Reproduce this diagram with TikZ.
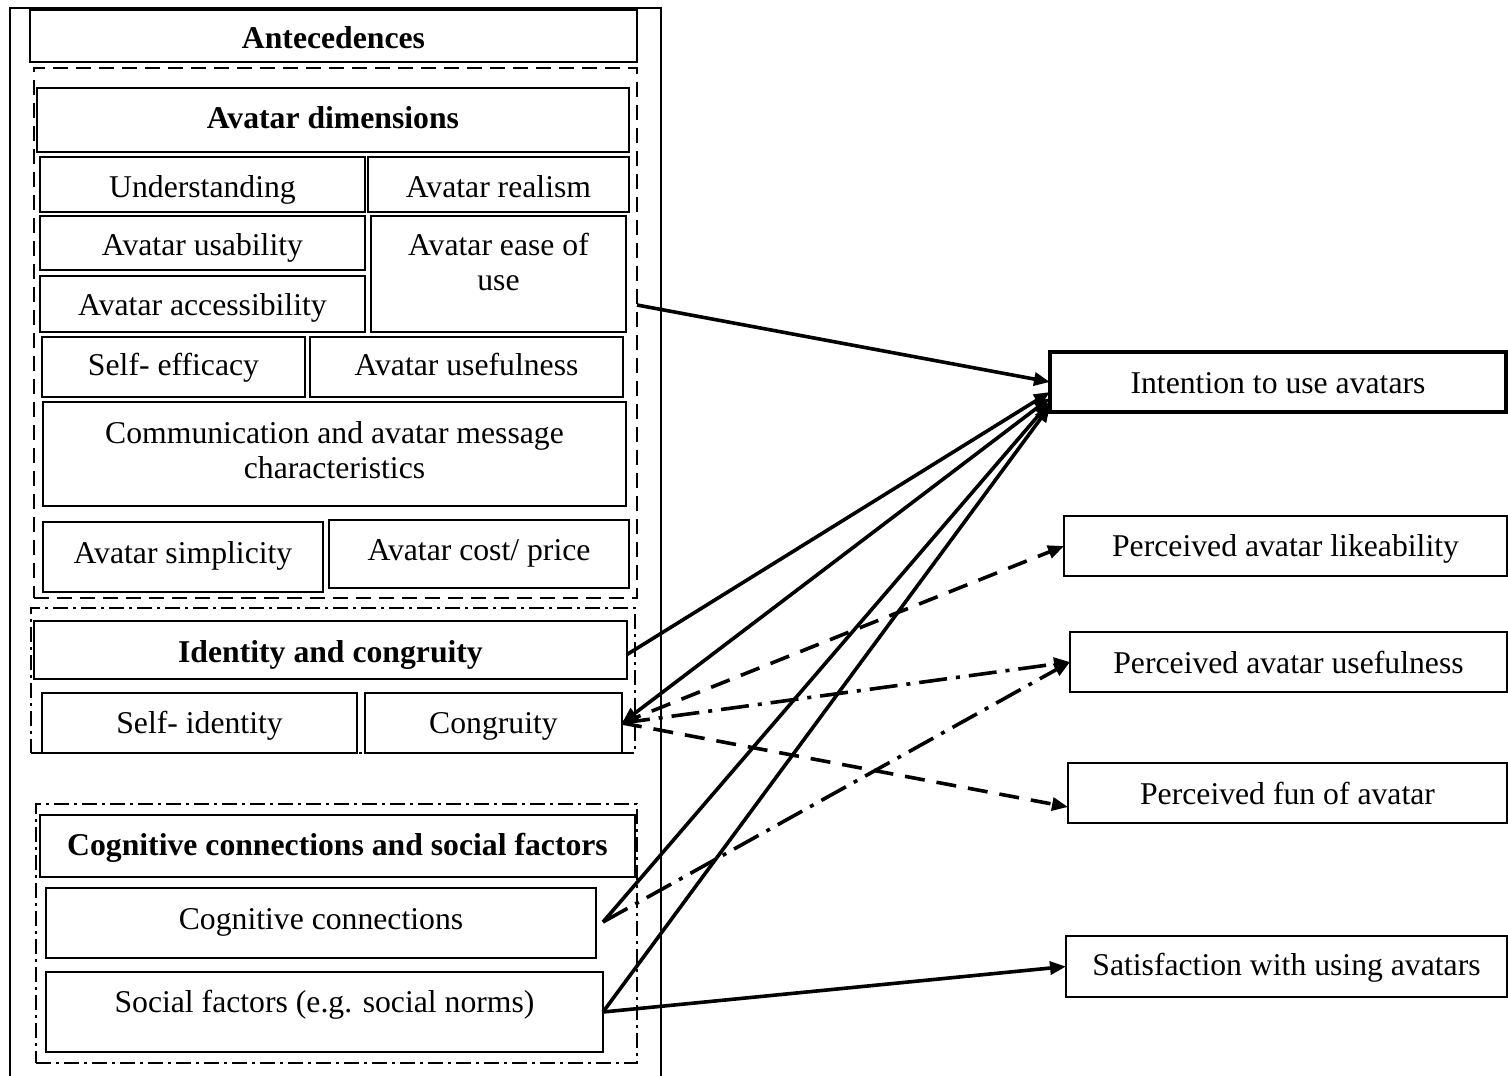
\documentclass[tikz,border=0pt]{standalone}
\usepackage{fontspec}
\setmainfont{Liberation Serif}
\usetikzlibrary{arrows.meta}

% \cell[style]{name}{x1}{y1}{x2}{y2}{baseline offset}{text}
% draws a box from (x1,y1) to (x2,y2); the offset moves the first
% baseline below the box centre by the given amount
\newcommand\cell[8][cellbox]{%
  \pgfmathsetmacro\cellW{(#5)-(#3)}%
  \pgfmathsetmacro\cellH{(#6)-(#4)}%
  \pgfmathsetmacro\cellX{((#3)+(#5))/2}%
  \pgfmathsetmacro\cellY{((#4)+(#6))/2}%
  \pgfmathsetmacro\cellT{24+(#7)}%
  \pgfmathsetmacro\cellD{24-(#7)}%
  \node[#1,minimum width=\cellW pt,minimum height=\cellH pt,
        text height=\cellT pt,text depth=\cellD pt] (#2) at (\cellX,\cellY) {#8};}

\begin{document}
\begin{tikzpicture}[x=1pt,y=-1pt,
  txt/.style={font=\fontsize{31.7}{35}\selectfont},
  cellbox/.style={draw,line width=2.4pt,inner sep=0pt,outer sep=0pt,txt},
  headbox/.style={cellbox,font=\fontsize{31.7}{35}\selectfont\bfseries},
  groupdash/.style={draw,line width=2.4pt,inner sep=0pt,outer sep=0pt,
                    dash pattern=on 15pt off 8pt},
  groupdashdot/.style={draw,line width=2.4pt,inner sep=0pt,outer sep=0pt,
                    dash pattern=on 15pt off 5pt on 3pt off 5pt},
  >={Triangle[length=16pt,width=13pt]},
  link/.style={line width=3.6pt,->},
  twoway/.style={line width=3.6pt,<->},
  dashlink/.style={link,dash pattern=on 20pt off 12pt},
  dotlink/.style={link,dash pattern=on 28pt off 9pt on 4pt off 9pt},
]
\useasboundingbox (0,0) rectangle (1508,1076);
\fill[white] (0,0) rectangle (1508,1076);

% frame around the antecedents column (open at the bottom)
\draw[line width=2.4pt] (10,1076) -- (10,8) -- (661,8) -- (661,1076);

% groups
\cell[groupdash]{dimgroup}{34}{68}{637}{598}{0}{}
\cell[groupdashdot]{identgroup}{31}{608}{635}{753}{0}{}
\cell[groupdashdot]{coggroup}{36}{804}{637}{1063}{0}{}

% antecedents
\cell[headbox]{antec}{30}{10}{637}{62}{12}{Antecedences}
\cell[headbox]{dimhead}{37}{88}{629}{152}{8}{Avatar dimensions}
\cell{underst}{40}{157}{365}{212}{12.5}{Understanding}
\cell{realism}{368}{157}{629}{212}{12.5}{Avatar realism}
\cell{usab}{40}{216}{365}{270}{12}{Avatar usability}
\cell{access}{40}{276}{365}{332}{11}{Avatar accessibility}
\cell{ease}{371}{216}{626}{332}{-19}{\begin{tabular}[t]{@{}c@{}}Avatar ease of\\use\end{tabular}}
\cell{selfeff}{42}{337}{305}{397}{8}{Self- efficacy}
\cell{usefulA}{310}{337}{623}{397}{8}{Avatar usefulness}
\cell{comm}{43}{402}{626}{506}{-11}{\begin{tabular}[t]{@{}c@{}}Communication and avatar message\\characteristics\end{tabular}}
\cell{simpl}{43}{522}{323}{592}{6}{Avatar simplicity}
\cell{cost}{329}{520}{629}{588}{6}{Avatar cost/ price}

\cell[headbox]{identhead}{34}{621}{627}{679}{12}{Identity and congruity}
\cell{selfid}{42}{693}{357}{753}{10}{Self- identity}
\cell{congr}{365}{693}{622}{753}{10}{Congruity}

\cell[headbox]{coghead}{40}{815}{635}{877}{9}{Cognitive connections and social factors}
\cell{cogconn}{46}{888}{596}{958}{6}{Cognitive connections}
\cell{social}{46}{972}{603}{1052}{0}{Social factors (e.g. social norms)}

% outcomes
\cell[cellbox,line width=4pt]{intent}{1050}{352}{1506}{412}{11}{Intention to use avatars}
\cell{like}{1064}{516}{1507}{576}{10}{Perceived avatar likeability}
\cell{usefulB}{1070}{632}{1507}{692}{11}{Perceived avatar usefulness}
\cell{fun}{1068}{763}{1507}{823}{11}{Perceived fun of avatar}
\cell{satis}{1066}{936}{1507}{997}{8.5}{Satisfaction with using avatars}

% paths
\draw[link] ([yshift=28pt]dimgroup.east) -- (intent.west);
\draw[link] ([yshift=-4.5pt]identhead.east) -- ([yshift=-10pt]intent.west);
\draw[twoway] (congr.east) -- ([yshift=-16pt]intent.west);
\draw[link] ([xshift=7pt,yshift=1pt]cogconn.east) -- ([yshift=-20pt]intent.west);
\draw[link] (social.east) -- ([yshift=-24pt]intent.west);
\draw[dashlink] (congr.east) -- (like.west);
\draw[dotlink] (congr.east) -- (usefulB.west);
\draw[dashlink] (congr.east) -- ([yshift=-14pt]fun.west);
\draw[dotlink] ([xshift=7pt,yshift=1pt]cogconn.east) -- (usefulB.west);
\draw[link] (social.east) -- (satis.west);
\end{tikzpicture}
\end{document}
